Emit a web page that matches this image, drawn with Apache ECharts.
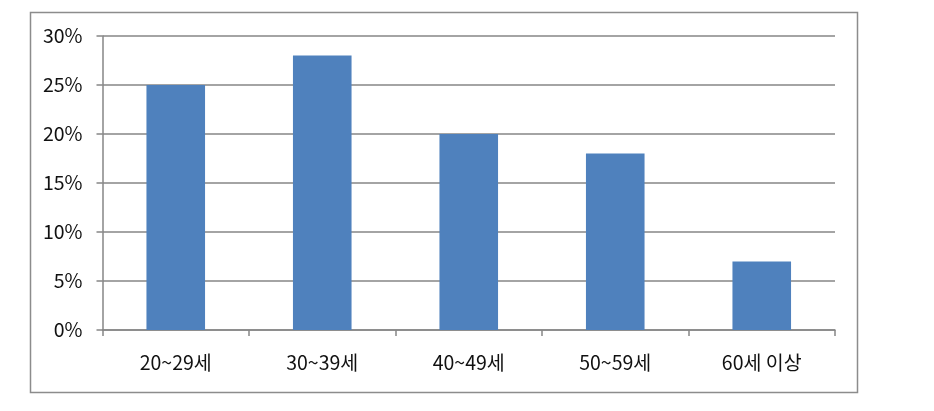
<!DOCTYPE html>
<html>
<head>
<meta charset="utf-8">
<script src="https://cdn.jsdelivr.net/npm/echarts@6/dist/echarts.min.js"></script>
<style>
html,body{margin:0;padding:0;background:#fff;}
#c{width:934px;height:411px;}
</style>
</head>
<body>
<div id="c"></div>
<script>
var categories = ['20~29세', '30~39세', '40~49세', '50~59세', '60세 이상'];
var values = [25, 28, 20, 18, 7];
var yTicks = [0, 5, 10, 15, 20, 25, 30];

var chart = echarts.init(document.getElementById('c'), null, {renderer: 'canvas'});
var font = '"Noto Sans CJK KR", "Noto Sans", sans-serif';
chart.setOption({
  animation: false,
  backgroundColor: '#fff',
  graphic: [{
    type: 'rect',
    shape: {x: 30.5, y: 12.5, width: 827, height: 380},
    style: {fill: 'none', stroke: '#8c8c8c', lineWidth: 1.5},
    silent: true
  }],
  grid: {left: 102.5, right: 99, top: 36, bottom: 81, containLabel: false},
  xAxis: {
    type: 'category',
    data: categories,
    axisLine: {show: true, lineStyle: {color: '#868686', width: 1.5}},
    axisTick: {show: true, alignWithLabel: false, length: 6, lineStyle: {color: '#868686', width: 1.5}},
    axisLabel: {color: '#111', fontSize: 19.5, fontFamily: font, margin: 23},
    splitLine: {show: false}
  },
  yAxis: {
    type: 'value',
    min: yTicks[0],
    max: yTicks[yTicks.length - 1],
    interval: 5,
    axisLine: {show: true, lineStyle: {color: '#868686', width: 1.5}},
    axisTick: {show: true, length: 6, lineStyle: {color: '#868686', width: 1.5}},
    axisLabel: {color: '#111', fontSize: 19.5, fontFamily: font, margin: 20, formatter: '{value}%'},
    splitLine: {show: true, lineStyle: {color: '#868686', width: 1.5}}
  },
  series: [{
    type: 'bar',
    data: values,
    barWidth: '40%',
    itemStyle: {color: '#4F81BD'},
    silent: true
  }]
});
</script>
</body>
</html>
